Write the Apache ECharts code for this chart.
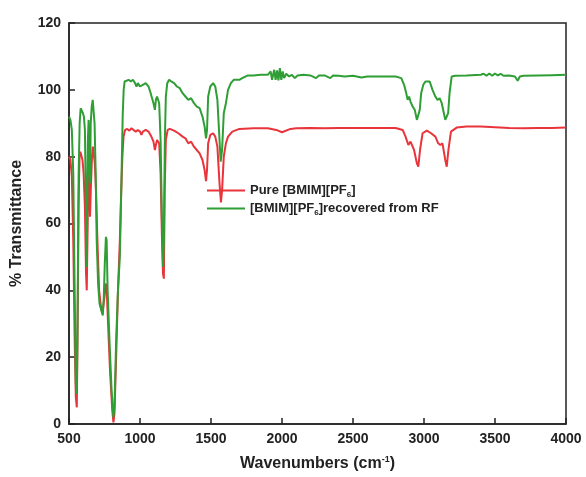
<!DOCTYPE html>
<html>
<head>
<meta charset="utf-8">
<script src="https://cdn.jsdelivr.net/npm/echarts@6/dist/echarts.min.js"></script>
<style>
  html, body { margin: 0; padding: 0; background: #fff; }
  #chart { width: 586px; height: 477px; }
</style>
</head>
<body>
<div id="chart"></div>
<script>
// FTIR spectra
const pureX = [500, 510, 520, 530, 540, 548, 555, 560, 567, 574, 580, 587, 595, 603, 612, 620, 625, 630, 637, 643, 648, 655, 662, 668, 675, 682, 690, 700, 712, 725, 735, 742, 750, 758, 765, 775, 790, 805, 813, 820, 832, 845, 858, 868, 876, 884, 895, 910, 925, 940, 955, 970, 985, 1000, 1010, 1020, 1040, 1060, 1080, 1095, 1105, 1112, 1120, 1135, 1145, 1155, 1162, 1168, 1174, 1182, 1195, 1210, 1240, 1270, 1300, 1320, 1340, 1360, 1380, 1400, 1420, 1440, 1455, 1465, 1472, 1480, 1495, 1515, 1530, 1545, 1560, 1570, 1578, 1590, 1605, 1620, 1650, 1700, 1800, 1900, 1960, 2000, 2010, 2060, 2100, 2200, 2300, 2400, 2500, 2600, 2700, 2800, 2850, 2870, 2890, 2905, 2930, 2950, 2960, 2972, 2990, 3020, 3050, 3080, 3100, 3115, 3130, 3150, 3160, 3172, 3190, 3230, 3300, 3400, 3500, 3600, 3700, 3800, 3900, 4000];
const pureY = [80, 79, 74, 55, 25, 8, 5, 25, 65, 80, 81.5, 81.6, 79, 75, 65, 45, 40, 55, 78, 70, 62, 72, 80, 83, 82.5, 78, 70, 55, 40, 35, 33, 32.5, 38, 42, 41, 30, 15, 4, 0.5, 3, 20, 40, 55, 70, 80, 86, 88, 88.3, 87.8, 88.5, 88, 87.5, 88, 87.5, 86.5, 87.5, 88, 87.5, 86, 84.5, 82, 83.5, 85, 84, 75, 55, 45, 43.5, 70, 85, 88, 88.3, 87.8, 87, 86, 85.5, 84, 84.5, 83, 82, 81, 79, 76, 72.7, 76, 84, 86.5, 87, 86, 83, 72, 66.3, 70, 80, 84, 86, 87.5, 88.3, 88.5, 88.5, 88, 87.3, 87.8, 88.3, 88.5, 88.6, 88.5, 88.6, 88.6, 88.6, 88.6, 88.6, 88, 86, 83.5, 84.5, 82, 78, 77, 82, 87, 87.8, 87, 86, 84, 83.5, 84, 79, 77, 82, 87.5, 88.7, 89, 89, 88.8, 88.6, 88.5, 88.6, 88.6, 88.7];

const recX = [500, 510, 520, 530, 540, 548, 555, 560, 568, 575, 582, 590, 598, 605, 612, 618, 624, 628, 633, 638, 643, 648, 653, 660, 667, 672, 680, 688, 695, 705, 715, 728, 738, 745, 752, 760, 765, 772, 785, 800, 812, 820, 832, 845, 858, 868, 878, 885, 892, 905, 920, 935, 950, 965, 975, 985, 1000, 1010, 1020, 1040, 1060, 1075, 1085, 1095, 1105, 1112, 1120, 1135, 1145, 1155, 1162, 1168, 1175, 1182, 1192, 1205, 1220, 1240, 1260, 1280, 1300, 1320, 1340, 1360, 1380, 1400, 1420, 1440, 1455, 1465, 1472, 1480, 1495, 1515, 1530, 1545, 1560, 1568, 1578, 1590, 1605, 1620, 1640, 1660, 1700, 1720, 1760, 1800, 1850, 1900, 1920, 1930, 1945, 1955, 1965, 1975, 1985, 1995, 2005, 2015, 2030, 2050, 2070, 2090, 2110, 2150, 2200, 2240, 2260, 2300, 2340, 2360, 2400, 2440, 2500, 2560, 2600, 2700, 2800, 2840, 2860, 2875, 2885, 2895, 2905, 2920, 2935, 2950, 2960, 2970, 2980, 2995, 3010, 3040, 3060, 3080, 3095, 3110, 3125, 3140, 3150, 3160, 3170, 3180, 3195, 3220, 3300, 3400, 3420, 3440, 3460, 3480, 3500, 3520, 3540, 3560, 3600, 3640, 3660, 3675, 3700, 3800, 3900, 4000];
const recY = [92, 91, 88, 75, 40, 12, 9, 30, 75, 90, 94.5, 95, 93, 92, 88, 70, 47, 60, 85, 91, 78, 72, 90, 95, 97, 96.5, 90, 75, 55, 42, 36, 34, 32.5, 38, 48, 56, 55, 40, 25, 10, 2, 5, 25, 40, 50, 70, 92, 100, 102.5, 103, 103, 102.5, 103, 102, 101, 102, 101, 100.5, 101.5, 102, 101, 99, 97.5, 96, 94, 97, 98, 96, 85, 60, 47, 55, 85, 98, 102, 103, 102.5, 102, 101, 100.5, 99, 98, 97, 97.5, 96, 95, 94.5, 92, 89, 85.5, 88, 98, 101, 102, 101, 97, 85, 78.5, 82, 93, 96, 100, 102, 103, 103, 103.5, 104.3, 104.3, 104.5, 104.5, 105.5, 103, 106, 103, 105.8, 102.8, 106.5, 103, 105.5, 103.5, 104.8, 104, 104.5, 103.5, 104.3, 104.5, 104.3, 103.5, 104.3, 104.3, 103.5, 104.3, 104.2, 104, 104.2, 103.7, 104, 104, 104, 103.5, 101.5, 99, 97, 98, 96.5, 95, 94, 91, 90.6, 94, 99, 101.5, 102.5, 102.5, 100, 98, 97, 97.5, 96, 93, 91, 90.6, 93, 99, 104, 104.2, 104.3, 104.5, 104.8, 104.2, 104.9, 104.2, 104.9, 104.3, 104.8, 104.2, 104.3, 104, 102.7, 104, 104.2, 104.3, 104.4, 104.5];

const FONT = 'Arial, "Liberation Sans", sans-serif';
const RED = '#e8343a';
const GREEN = '#2f9e35';

const chart = echarts.init(document.getElementById('chart'));

const option = {
  animation: false,
  backgroundColor: '#fff',
  grid: {
    left: 69,
    right: 20,
    top: 23,
    bottom: 51,
    show: true,
    borderColor: '#222',
    borderWidth: 1.5
  },
  legend: {
    orient: 'vertical',
    left: 207,
    top: 184,
    padding: 0,
    itemGap: 3.5,
    itemWidth: 38,
    itemHeight: 2,
    icon: 'rect',
    data: ['pure', 'rec'],
    formatter: function (name) {
      if (name === 'pure') return '{a|Pure [BMIM][PF}{s|6}{a|]}';
      return '{a|[BMIM][PF}{s|6}{a|]recovered from RF}';
    },
    textStyle: {
      color: '#222',
      rich: {
        a: { fontFamily: FONT, fontWeight: 'bold', fontSize: 13, color: '#222', lineHeight: 16 },
        s: { fontFamily: FONT, fontWeight: 'bold', fontSize: 8, color: '#222', lineHeight: 16, verticalAlign: 'bottom', padding: [5, 0, 0, 0] }
      }
    }
  },
  xAxis: {
    type: 'value',
    min: 500,
    max: 4000,
    interval: 500,
    name: '{a|Wavenumbers (cm}{s|-1}{a|)}',
    nameLocation: 'middle',
    nameGap: 31,
    nameTextStyle: {
      rich: {
        a: { fontFamily: FONT, fontWeight: 'bold', fontSize: 16, color: '#222', lineHeight: 18 },
        s: { fontFamily: FONT, fontWeight: 'bold', fontSize: 9, color: '#222', lineHeight: 18, verticalAlign: 'top', padding: [0, 0, 6, 0] }
      }
    },
    axisLine: { lineStyle: { color: '#222', width: 1.5 } },
    axisTick: { inside: true, length: 6, lineStyle: { color: '#222', width: 1.5 } },
    axisLabel: {
      margin: 8,
      fontFamily: FONT,
      fontWeight: 'bold',
      fontSize: 14,
      color: '#222',
      formatter: function (v) { return String(v); }
    },
    splitLine: { show: false }
  },
  yAxis: {
    type: 'value',
    min: 0,
    max: 120,
    interval: 20,
    name: '% Transmittance',
    nameLocation: 'middle',
    nameGap: 44,
    nameTextStyle: { fontFamily: FONT, fontWeight: 'bold', fontSize: 16, color: '#222' },
    axisLine: { show: true, lineStyle: { color: '#222', width: 1.5 } },
    axisTick: { show: true, inside: true, length: 6, lineStyle: { color: '#222', width: 1.5 } },
    axisLabel: { margin: 8, fontFamily: FONT, fontWeight: 'bold', fontSize: 14, color: '#222' },
    splitLine: { show: false }
  },
  series: [
    {
      name: 'pure',
      type: 'line',
      symbol: 'none',
      data: pureX.map((x, i) => [x, pureY[i]]),
      lineStyle: { color: RED, width: 2 },
      itemStyle: { color: RED }
    },
    {
      name: 'rec',
      type: 'line',
      symbol: 'none',
      data: recX.map((x, i) => [x, recY[i]]),
      lineStyle: { color: GREEN, width: 2 },
      itemStyle: { color: GREEN }
    }
  ]
};

chart.setOption(option);
</script>
</body>
</html>
